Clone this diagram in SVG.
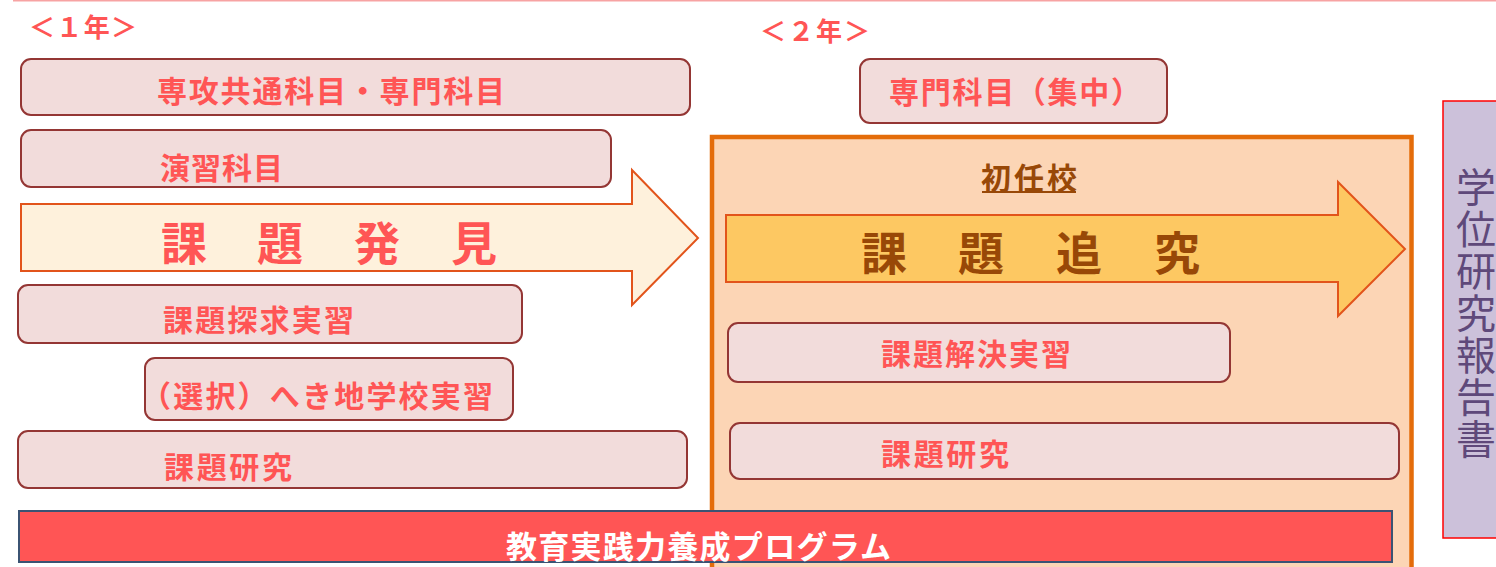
<svg xmlns="http://www.w3.org/2000/svg" width="1496" height="567" viewBox="0 0 1496 567">
<style>
  text { font-family: "Noto Sans CJK JP", "Noto Sans CJK SC", sans-serif; dominant-baseline: central; }
  .box { fill: #f2dcdb; stroke: #943634; stroke-width: 2; }
  .lbl { fill: #ff5555; font-size: 30px; font-weight: bold; }
  .year { fill: #ff5555; font-size: 26px; font-weight: bold; }
  .big { font-size: 46px; font-weight: bold; text-anchor: middle; }
  .arrow { stroke: #e2541b; stroke-width: 2; stroke-linejoin: miter; }
  .vert { fill: #5f497a; font-size: 40px; writing-mode: vertical-rl; letter-spacing: 2px; }
</style>
<rect x="0" y="0" width="1496" height="567" fill="#ffffff"/>
<line x1="13" y1="0.8" x2="1496" y2="0.8" stroke="#f7a3a3" stroke-width="1.5"/>

<g id="year1"><text class="year" x="29" y="25" textLength="108">＜１年＞</text></g>
<g id="year2"><text class="year" x="760" y="29" textLength="110">＜２年＞</text></g>

<g id="frame-shoninko">
  <rect x="712" y="137" width="699.5" height="450" fill="#fcd5b5" stroke="#e46c0a" stroke-width="4.5"/>
  <text x="981" y="176" textLength="96" style="fill:#984807;font-size:30px;font-weight:bold">初任校</text>
  <line x1="982" y1="192" x2="1076" y2="192" stroke="#984807" stroke-width="1.8"/>
</g>

<g id="node-senkou">
  <rect class="box" x="21" y="59" width="669" height="56" rx="10"/>
  <text class="lbl" x="157" y="88.5" textLength="348">専攻共通科目・専門科目</text>
</g>
<g id="node-enshu">
  <rect class="box" x="21" y="130" width="590" height="57" rx="10"/>
  <text class="lbl" x="160" y="166" textLength="123">演習科目</text>
</g>
<g id="node-hakken">
  <polygon class="arrow" fill="#fef1dc" points="21,204 632,204 632,170 698,238 632,305 632,271 21,271"/>
  <text class="big" fill="#ff5555" x="184" y="239.5">課</text>
  <text class="big" fill="#ff5555" x="280" y="239.5">題</text>
  <text class="big" fill="#ff5555" x="377" y="239.5">発</text>
  <text class="big" fill="#ff5555" x="474" y="239.5">見</text>
</g>
<g id="node-tankyu">
  <rect class="box" x="18" y="285" width="504" height="58" rx="10"/>
  <text class="lbl" x="163" y="317.5" textLength="191">課題探求実習</text>
</g>
<g id="node-hekichi">
  <rect class="box" x="145" y="358" width="368" height="62" rx="10"/>
  <text class="lbl" x="141" y="393.5" textLength="352">（選択）へき地学校実習</text>
</g>
<g id="node-kenkyu1">
  <rect class="box" x="18" y="431" width="669" height="57" rx="10"/>
  <text class="lbl" x="164" y="464.5" textLength="128">課題研究</text>
</g>
<g id="node-senmon2">
  <rect class="box" x="860" y="59" width="307" height="64" rx="10"/>
  <text class="lbl" x="889" y="89.5" textLength="252">専門科目（集中）</text>
</g>
<g id="node-tsuikyu">
  <polygon class="arrow" fill="#fdc862" points="726,215 1338,215 1338,182 1405,249 1338,316 1338,282 726,282"/>
  <text class="big" fill="#984807" x="884" y="250">課</text>
  <text class="big" fill="#984807" x="981" y="250">題</text>
  <text class="big" fill="#984807" x="1079" y="250">追</text>
  <text class="big" fill="#984807" x="1177" y="250">究</text>
</g>
<g id="node-kaiketsu">
  <rect class="box" x="728" y="323" width="502" height="59" rx="10"/>
  <text class="lbl" x="881" y="351.5" textLength="190">課題解決実習</text>
</g>
<g id="node-kenkyu2">
  <rect class="box" x="730" y="423" width="669" height="56" rx="10"/>
  <text class="lbl" x="881" y="452" textLength="128">課題研究</text>
</g>
<g id="node-program">
  <rect x="19" y="511" width="1373" height="51" fill="#ff5555" stroke="#3b5373" stroke-width="2"/>
  <text x="506" y="544" textLength="385" style="fill:#ffffff;font-size:31px;font-weight:bold">教育実践力養成プログラム</text>
</g>
<g id="node-report">
  <rect x="1443" y="101" width="70" height="437" fill="#ccc1da" stroke="#ff0000" stroke-width="1.5"/>
  <text class="vert" x="1476" y="167">学位研究報告書</text>
</g>
<g id="connectors"></g>
</svg>
